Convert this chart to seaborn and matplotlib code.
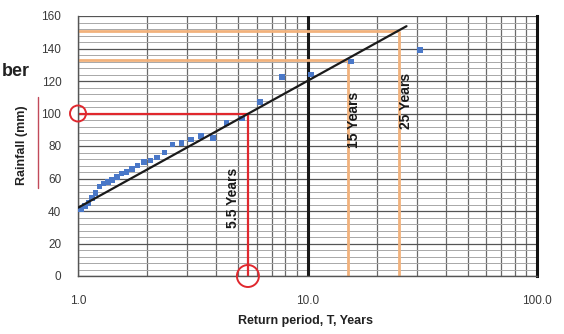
import numpy as np
import pandas as pd
import matplotlib
matplotlib.use("Agg")
import matplotlib.pyplot as plt
from matplotlib.patches import Circle
from matplotlib.lines import Line2D
from matplotlib.ticker import FixedLocator, MultipleLocator, FuncFormatter
import seaborn as sns

# Annual maximum rainfall, ranked, with Weibull return periods
return_period = [31.0, 15.5, 10.33, 7.75, 6.2, 5.17, 4.43, 3.875, 3.44, 3.1,
                 2.82, 2.58, 2.38, 2.21, 2.07, 1.94, 1.82, 1.72, 1.63, 1.55,
                 1.48, 1.41, 1.35, 1.29, 1.24, 1.19, 1.15, 1.11, 1.07, 1.03]
rainfall = [139, 132, 124, 122.5, 107, 97, 94, 85, 86, 84,
            82, 81, 76, 73, 71, 70, 68, 66, 64, 63,
            61, 59, 58, 57, 55, 51, 48, 45, 43, 41]

# Log trend line  rainfall = a*ln(T) + b
trend_a = 33.9
trend_b = 42.0
trend_T = [1.0, 27.0]

# Design values
design_T = [5.5, 15, 25]
design_rain = [100, 133, 151]
design_labels = ["5.5 Years", "15 Years", "25 Years"]

x_ticks = [1, 10, 100]
x_ticklabels = ["1.0", "10.0", "100.0"]

sns.set_theme(style="white")
plt.rcParams["font.family"] = ["Liberation Sans", "DejaVu Sans"]

fig = plt.figure(figsize=(5.64, 3.34), dpi=100)
ax = fig.add_axes([78 / 564, 1 - 276 / 334, (537 - 78) / 564, (276 - 16) / 334])

ax.set_xscale("log")
ax.set_xlim(1, 100)
ax.set_ylim(0, 160)

# grid
ax.yaxis.set_major_locator(MultipleLocator(20))
ax.yaxis.set_minor_locator(MultipleLocator(4))
ax.xaxis.set_major_locator(FixedLocator(x_ticks))
ax.xaxis.set_minor_locator(FixedLocator([m * d for d in (1, 10) for m in range(2, 10)]))
ax.grid(which="major", axis="y", color="#555555", lw=0.9)
ax.grid(which="minor", axis="y", color="#a8a8a8", lw=0.7)
ax.grid(which="minor", axis="x", color="#6a6a6a", lw=0.9)
ax.grid(which="major", axis="x", color="#333333", lw=0.9)
ax.axvline(10, color="#1a1a1a", lw=2.2, zorder=1.5)
ax.set_axisbelow(True)

for side in ("left", "bottom"):
    ax.spines[side].set_color("#555555")
    ax.spines[side].set_linewidth(1.0)
ax.spines["right"].set_color("#111111")
ax.spines["right"].set_linewidth(2.2)
ax.spines["top"].set_visible(False)

ax.xaxis.set_major_formatter(FuncFormatter(lambda v, p: x_ticklabels[x_ticks.index(round(v))] if round(v) in x_ticks else ""))
ax.xaxis.set_minor_formatter(FuncFormatter(lambda v, p: ""))
ax.tick_params(axis="both", which="both", length=0, labelsize=8.5, labelcolor="#3a3a3a")
ax.tick_params(axis="y", pad=12)
ax.tick_params(axis="x", pad=14)

# design guide lines
orange = "#f2b27c"
red = "#e0282e"
for T, r in zip(design_T[1:], design_rain[1:]):
    ax.plot([1, T], [r, r], color=orange, lw=2, zorder=2, solid_capstyle="butt")
    ax.plot([T, T], [0, r], color=orange, lw=2, zorder=2, solid_capstyle="butt")
ax.plot([1, design_T[0]], [design_rain[0]] * 2, color=red, lw=1.6, zorder=2.2)
ax.plot([design_T[0]] * 2, [0, design_rain[0]], color=red, lw=1.6, zorder=2.2)

# observations and trend line
obs = pd.DataFrame({"T": return_period, "rain": rainfall})
sns.scatterplot(data=obs, x="T", y="rain", marker="s", s=16, color="#4a78c8",
                edgecolor="none", ax=ax, zorder=3)
trend = pd.DataFrame({"T": trend_T,
                      "rain": [trend_a * np.log(t) + trend_b for t in trend_T]})
sns.lineplot(data=trend, x="T", y="rain", color="#1a1a1a", lw=1.6, ax=ax, zorder=4)
ax.set_xlabel("")
ax.set_ylabel("")

# highlight rings at the axis crossings
for cx, cy, rad in [(1.0, design_rain[0], 8), (design_T[0], 0, 11)]:
    px, py = ax.transData.transform((cx, cy))
    ring = Circle((px, py), rad, transform=None, fill=False, edgecolor=red,
                  lw=1.4, clip_on=False, zorder=6)
    fig.patches.append(ring)

# return period annotations
text_pos = [(design_T[0] * 0.86, 48), (design_T[1] * 1.06, 96), (design_T[2] * 1.07, 108)]
for (tx, ty), lab in zip(text_pos, design_labels):
    ax.text(tx, ty, lab, rotation=90, ha="center", va="center",
            fontsize=10, fontweight="bold", color="#1a1a1a", zorder=5)

fig.text(305 / 564, 1 - 321 / 334, "Return period, T, Years", ha="center", va="center",
         fontsize=9, fontweight="bold", color="#222222")
fig.text(22 / 564, 1 - 145 / 334, "Rainfall (mm)", rotation=90, ha="center", va="center",
         fontsize=9, fontweight="bold", color="#222222")
fig.text(30 / 564, 1 - 72 / 334, "ber", ha="right", va="center",
         fontsize=13, fontweight="bold", color="#222222")
fig.lines.append(Line2D([38 / 564, 38 / 564], [1 - 97 / 334, 1 - 188 / 334],
                        transform=fig.transFigure, color="#c24a5a", lw=1.0))

fig.savefig("out.png", dpi=100)
